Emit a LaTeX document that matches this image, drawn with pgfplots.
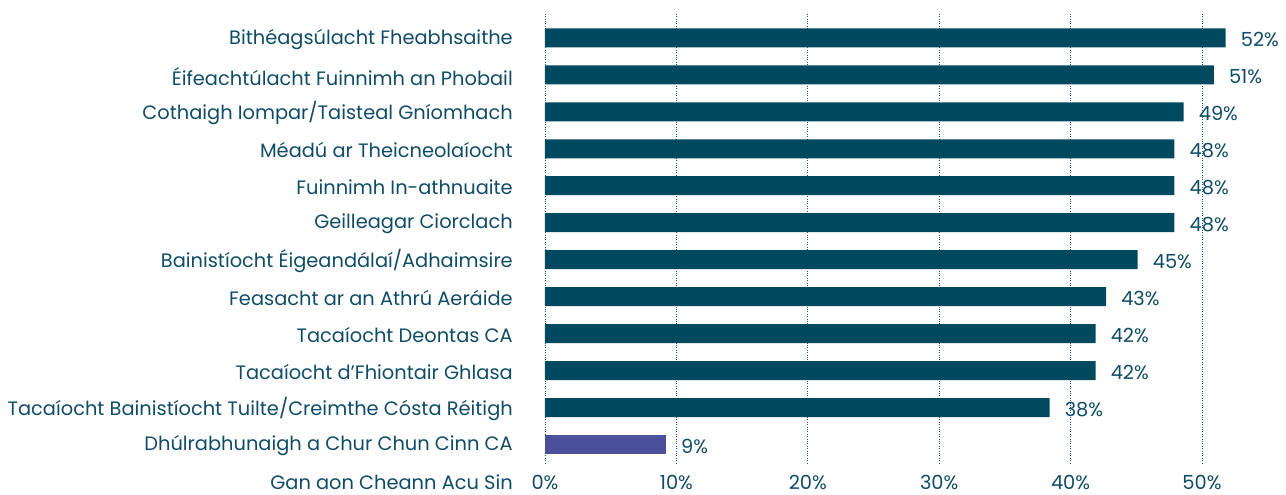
\documentclass[border=0pt]{standalone}
\usepackage{pgfplots}
\pgfplotsset{compat=1.18}
\usepackage{fontspec}
\setmainfont{Poppins}
\definecolor{barc}{HTML}{01495E}
\definecolor{purp}{HTML}{4B4F9C}
\definecolor{txt}{HTML}{0F4C66}
\definecolor{gridc}{HTML}{1A5C73}
\newcommand{\lf}{\fontsize{19.4}{23}\selectfont}
\begin{document}
\begin{tikzpicture}
\lf
\useasboundingbox (0,0) rectangle (1286pt,495pt);
\begin{axis}[
  at={(545pt,32pt)}, anchor=south west,
  scale only axis, width=722.7pt, height=451pt,
  xmin=0, xmax=55, ymin=0.5, ymax=12.7,
  axis x line*=bottom, axis y line*=left,
  axis line style={draw=none},
  major tick length=0pt,
  xtick={0,10,...,50},
  xticklabel={\pgfmathprintnumber{\tick}\%},
  /pgf/number format/assume math mode=true,
  ytick={1,...,12},
  yticklabels={Dhúlrabhunaigh a Chur Chun Cinn CA,
    Tacaíocht Bainistíocht Tuilte/Creimthe Cósta Réitigh,
    Tacaíocht d’Fhiontair Ghlasa,
    Tacaíocht Deontas CA,
    Feasacht ar an Athrú Aeráide,
    Bainistíocht Éigeandálaí/Adhaimsire,
    Geilleagar Ciorclach,
    Fuinnimh In-athnuaite,
    Méadú ar Theicneolaíocht,
    Cothaigh Iompar/Taisteal Gníomhach,
    Éifeachtúlacht Fuinnimh an Phobail,
    Bithéagsúlacht Fheabhsaithe},
  xmajorgrids,
  grid style={dotted, color=gridc, line width=0.9pt},
  tick label style={text=txt, font=\lf},
  yticklabel style={inner sep=0pt, anchor=east, xshift=-32pt, yshift=-1.5pt},
  xticklabel style={inner sep=0pt, anchor=base, yshift=-27pt},
  xbar, bar width=19pt, bar shift=0pt,
  nodes near coords, point meta=explicit symbolic,
  nodes near coords style={anchor=west, inner sep=0pt, xshift=15pt, yshift=-1.5pt, text=txt, font=\lf},
  clip=false,
]
\addplot[draw=none, fill=barc] coordinates {
  (51.8,12) [52\%]
  (50.9,11) [51\%]
  (48.6,10) [49\%]
  (47.9,9) [48\%]
  (47.9,8) [48\%]
  (47.9,7) [48\%]
  (45.1,6) [45\%]
  (42.7,5) [43\%]
  (41.9,4) [42\%]
  (41.9,3) [42\%]
  (38.4,2) [38\%]
};
\addplot[draw=none, fill=purp] coordinates {
  (9.2,1) [9\%]
};
\node[anchor=base east, inner sep=0pt, text=txt, xshift=-32pt, yshift=-8pt] at (axis cs:0,0) {Gan aon Cheann Acu Sin};
\end{axis}
\end{tikzpicture}
\end{document}
